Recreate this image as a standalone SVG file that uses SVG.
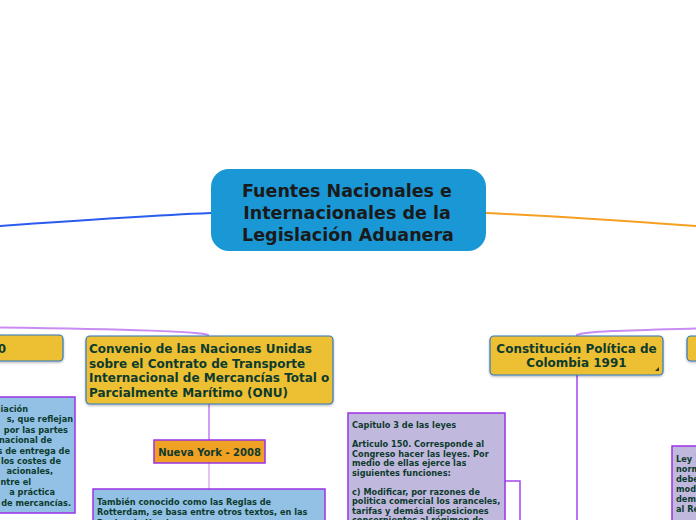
<svg xmlns="http://www.w3.org/2000/svg" width="696" height="520" viewBox="0 0 696 520">
<style>
text{font-family:"DejaVu Sans","Verdana",sans-serif;font-weight:bold;}
.topic{fill:#edbf33;stroke:#2f78c0;stroke-width:1.2;}
.tt{fill:#0d3b2e;font-size:12px;}
.note{fill:#0d3b2e;font-size:8.2px;}
.ne{fill:#0d3b2e;font-size:8.2px;text-anchor:end;}
.blue{fill:#92c1e5;stroke:#9a32e6;stroke-width:1.5;}
.lav{fill:#c1b9dd;stroke:#9a32e6;stroke-width:1.5;}
.conn{fill:none;stroke-linecap:round;}
</style>
<defs>
<filter id="sh" x="-10%" y="-10%" width="120%" height="130%">
<feDropShadow dx="0" dy="1.2" stdDeviation="0.8" flood-color="#000" flood-opacity="0.3"/>
</filter>
</defs>
<rect width="696" height="520" fill="#fff"/>
<g id="connectors">
<path class="conn" d="M211,213 C140,216 70,221 0,226" stroke="#2a5cf0" stroke-width="1.8"/>
<path class="conn" d="M486,213 C556,216 626,221 696,226" stroke="#f5a020" stroke-width="2"/>
<path class="conn" d="M208,335 C200,331 120,329 0,327.5" stroke="#c88cf2" stroke-width="2"/>
<path class="conn" d="M577,335 C585,331 640,330 696,328.5" stroke="#c88cf2" stroke-width="2"/>
<line class="conn" x1="209" y1="404" x2="209" y2="440" stroke="#c47af0" stroke-width="1.5"/>
<line class="conn" x1="209" y1="463" x2="209" y2="489" stroke="#dcaef5" stroke-width="1.5"/>
<line x1="577" y1="375" x2="577" y2="520" stroke="#a346f0" stroke-width="1.5"/>
<polyline points="505,481 520,481 520,520" fill="none" stroke="#a346f0" stroke-width="1.5"/>
</g>
<g id="central">
<rect x="211" y="169" width="275" height="82" rx="18" fill="#1a97d5"/>
<text x="347" y="197" text-anchor="middle" font-size="17.5" fill="#1a1a1a">Fuentes Nacionales e</text>
<text x="347" y="219" text-anchor="middle" font-size="17.5" fill="#1a1a1a">Internacionales de la</text>
<text x="348" y="241" text-anchor="middle" font-size="17.5" fill="#1a1a1a">Legislación Aduanera</text>
</g>
<g id="left-topic">
<rect class="topic" x="-20" y="335" width="83" height="26" rx="4" filter="url(#sh)"/>
<text class="tt" x="6" y="353" text-anchor="end">0</text>
</g>
<g id="left-note">
<rect class="blue" x="-10" y="397" width="85" height="116"/>
<text class="ne" x="28" y="412">iación</text>
<text class="ne" x="73" y="422.4">s, que reflejan</text>
<text class="ne" x="68" y="432.8">por las partes</text>
<text class="ne" x="52" y="443.2">nacional de</text>
<text class="ne" x="70" y="453.6">s de entrega de</text>
<text class="ne" x="61" y="464">los costes de</text>
<text class="ne" x="53" y="474.4">acionales,</text>
<text class="ne" x="31" y="484.8">ntre el</text>
<text class="ne" x="55" y="495.2">a práctica</text>
<text class="ne" x="71" y="505.6">de mercancías.</text>
</g>
<g id="convenio">
<rect class="topic" x="86" y="336" width="247" height="68" rx="4" filter="url(#sh)"/>
<text class="tt" x="89" y="353">Convenio de las Naciones Unidas</text>
<text class="tt" x="89" y="367.5">sobre el Contrato de Transporte</text>
<text class="tt" x="89" y="382">Internacional de Mercancías Total o</text>
<text class="tt" x="89" y="396.5">Parcialmente Marítimo (ONU)</text>
</g>
<g id="nueva-york">
<rect x="154" y="440" width="111" height="23" fill="#f0a023" stroke="#9a32e6" stroke-width="1.5"/>
<text x="209.5" y="456" text-anchor="middle" font-size="10" fill="#0d3b2e">Nueva York - 2008</text>
</g>
<g id="rotterdam">
<rect class="blue" x="93" y="489" width="232" height="40"/>
<text class="note" font-size="8.3" x="97" y="504.5">También conocido como las Reglas de</text>
<text class="note" font-size="8.3" x="97" y="515">Rotterdam, se basa entre otros textos, en las</text>
<text class="note" font-size="8.3" x="97" y="525.5">Reglas de Hamburgo</text>
</g>
<g id="capitulo">
<rect class="lav" x="348" y="413" width="157" height="120"/>
<text class="note" font-size="8" x="352" y="428">Capitulo 3 de las leyes</text>
<text class="note" font-size="8" x="352" y="447">Articulo 150. Corresponde al</text>
<text class="note" font-size="8" x="352" y="456.5">Congreso hacer las leyes. Por</text>
<text class="note" font-size="8" x="352" y="466">medio de ellas ejerce las</text>
<text class="note" font-size="8" x="352" y="475.5">siguientes funciones:</text>
<text class="note" font-size="8" x="352" y="494.5">c) Modificar, por razones de</text>
<text class="note" font-size="8" x="352" y="504">politica comercial los aranceles,</text>
<text class="note" font-size="8" x="352" y="513.5">tarifas y demás disposiciones</text>
<text class="note" font-size="8" x="352" y="523">concernientes al régimen de</text>
</g>
<g id="constitucion">
<rect class="topic" x="490" y="336" width="173" height="39" rx="4" filter="url(#sh)"/>
<text class="tt" x="576.5" y="352.5" text-anchor="middle">Constitución Política de</text>
<text class="tt" x="576.5" y="366.5" text-anchor="middle">Colombia 1991</text>
<path d="M659,367 L659,371 L655,371 Z" fill="#333"/>
</g>
<g id="right-topic">
<rect class="topic" x="687" y="336" width="40" height="25" rx="4" filter="url(#sh)"/>
</g>
<g id="ley">
<rect class="lav" x="672" y="446" width="40" height="90"/>
<text class="note" font-size="8.5" x="676" y="462">Ley 1</text>
<text class="note" font-size="8.5" x="676" y="472">norm</text>
<text class="note" font-size="8.5" x="676" y="482">debe</text>
<text class="note" font-size="8.5" x="676" y="492">mod</text>
<text class="note" font-size="8.5" x="676" y="502">dem</text>
<text class="note" font-size="8.5" x="676" y="512">al Ré</text>
</g>
</svg>
